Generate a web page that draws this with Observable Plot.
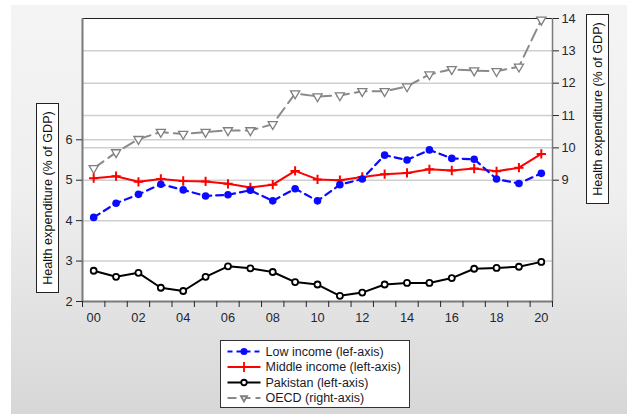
<!DOCTYPE html>
<html>
<head>
<meta charset="utf-8">
<script src="https://cdn.jsdelivr.net/npm/d3@7"></script>
<script src="https://cdn.jsdelivr.net/npm/@observablehq/plot@0.6"></script>
<style>
  html, body { margin: 0; padding: 0; background: #ffffff; }
  #wrap { position: relative; width: 627px; height: 414px; overflow: hidden; font-family: "Liberation Sans", Arial, sans-serif; }
  #bg { position: absolute; left: 11px; top: 5px; right: 0; bottom: 0;
        background: linear-gradient(to bottom, #f4f4f4 0%, #efefef 45%, #e2e2e2 75%, #d7d7d7 100%); }
  #chart { position: absolute; left: 0; top: 0; }
  .ytitle { position: absolute; background: #ffffff; border: 1px solid #222;
            box-sizing: border-box; font-size: 12.6px; color: #111;
            display: flex; align-items: center; justify-content: center; }
  .ytitle span { transform: rotate(-90deg); white-space: nowrap; display: block; }
  #legend { position: absolute; left: 219.5px; top: 340px; width: 190px; height: 67.5px;
            background: #ffffff; border: 1px solid #333; box-sizing: border-box; }
</style>
</head>
<body>
<div id="wrap">
  <div id="bg"></div>
  <div id="chart"></div>
  <div class="ytitle" style="left:36px; top:103px; width:23px; height:190px;"><span>Health expenditure (% of GDP)</span></div>
  <div class="ytitle" style="left:586px; top:14px; width:23px; height:190px;"><span>Health expenditure (% of GDP)</span></div>
  <div id="legend"></div>
</div>
<script>
// Health expenditure as % of GDP, 2000-2020
const years = d3.range(2000, 2021);

const lowIncome = [4.08, 4.43, 4.65, 4.90, 4.76, 4.61, 4.64, 4.75, 4.49, 4.79, 4.49,
                   4.89, 5.03, 5.62, 5.50, 5.75, 5.54, 5.52, 5.03, 4.92, 5.17];
const middleIncome = [5.05, 5.10, 4.96, 5.03, 4.98, 4.97, 4.91, 4.82, 4.89, 5.23, 5.02,
                      5.00, 5.08, 5.15, 5.18, 5.27, 5.24, 5.29, 5.22, 5.31, 5.65];
const pakistan = [2.76, 2.61, 2.71, 2.34, 2.26, 2.61, 2.87, 2.82, 2.73, 2.48, 2.42,
                  2.14, 2.22, 2.42, 2.46, 2.46, 2.58, 2.81, 2.83, 2.86, 2.98];
// OECD is read against the right-hand axis
const oecd = [9.37, 9.86, 10.27, 10.49, 10.43, 10.49, 10.54, 10.54, 10.73, 11.68, 11.59,
              11.62, 11.75, 11.75, 11.90, 12.27, 12.43, 12.39, 12.37, 12.51, 13.96];

const leftTicks = [2, 3, 4, 5, 6];
const rightTicks = [9, 10, 11, 12, 13, 14];
const xLabelYears = d3.range(2000, 2021, 2);

// Right axis (5.25..14) shares the frame with the left axis (2..9)
const leftDomain = [2, 9];
const rightDomain = [5.25, 14];
const toLeft = r => leftDomain[0] + (r - rightDomain[0]) * (leftDomain[1] - leftDomain[0]) / (rightDomain[1] - rightDomain[0]);
const toRight = v => rightDomain[0] + (v - leftDomain[0]) * (rightDomain[1] - rightDomain[0]) / (leftDomain[1] - leftDomain[0]);

const rows = (name, vals, conv = v => v) => years.map((y, i) => ({series: name, year: y, value: conv(vals[i])}));
const low = rows("Low income", lowIncome);
const mid = rows("Middle income", middleIncome);
const pak = rows("Pakistan", pakistan);
const oe = rows("OECD", oecd, toLeft);

const gridVals = [...leftTicks.filter(v => v > 2), ...rightTicks.filter(r => r > 9 && r < 14).map(toLeft)];
const tickColor = "#262633";

const chart = Plot.plot({
  width: 627,
  height: 335,
  marginLeft: 82,
  marginRight: 75,
  marginTop: 18,
  marginBottom: 34,
  style: {background: "transparent", fontFamily: "'Liberation Sans', Arial, sans-serif", fontSize: "12.8px", color: tickColor},
  x: {domain: [1999.5, 2020.5]},
  y: {domain: leftDomain},
  marks: [
    Plot.frame({fill: "white", stroke: "none"}),
    Plot.ruleY(gridVals, {stroke: "#cfcfcf", strokeWidth: 1.5}),
    // frame edges
    Plot.ruleY([9], {stroke: "#222", strokeWidth: 1}),
    Plot.ruleX([2020.5], {stroke: "#7a7a7a", strokeWidth: 1.5}),
    Plot.ruleX([1999.5], {stroke: "#7a7a7a", strokeWidth: 2}),
    Plot.ruleY([2], {stroke: "#7a7a7a", strokeWidth: 2}),
    // axes
    Plot.axisY(leftTicks, {anchor: "left", tickSize: 6, tickPadding: 4, stroke: tickColor, label: null}),
    Plot.axisY(rightTicks.map(toLeft), {anchor: "right", tickSize: 6, tickPadding: 3, stroke: tickColor,
      tickFormat: v => String(Math.round(toRight(v))), label: null}),
    Plot.axisX(d3.range(1999.5, 2021, 1), {anchor: "bottom", tickSize: 6, tickFormat: () => "", stroke: tickColor, label: null}),
    Plot.axisX(xLabelYears, {anchor: "bottom", tickSize: 0, tickPadding: 11, tickFormat: y => String(y % 100).padStart(2, "0"), label: null}),
    // OECD (right axis)
    Plot.line(oe, {x: "year", y: "value", stroke: "#8a8a8a", strokeWidth: 2, strokeDasharray: "12,6"}),
    Plot.dot(oe, {x: "year", y: "value", symbol: "triangle", rotate: 180, r: 3.4, fill: "white", stroke: "#7f7f7f", strokeWidth: 1.3}),
    // Pakistan
    Plot.line(pak, {x: "year", y: "value", stroke: "#000", strokeWidth: 2}),
    Plot.dot(pak, {x: "year", y: "value", r: 3, fill: "white", stroke: "#000", strokeWidth: 1.8}),
    // Middle income
    Plot.line(mid, {x: "year", y: "value", stroke: "#ff0000", strokeWidth: 2}),
    Plot.dot(mid, {x: "year", y: "value", symbol: "plus", r: 3.1, stroke: "#ff0000", strokeWidth: 2}),
    // Low income
    Plot.line(low, {x: "year", y: "value", stroke: "#0a0aff", strokeWidth: 2.2, strokeDasharray: "7,5"}),
    Plot.dot(low, {x: "year", y: "value", r: 3.8, fill: "#0a0aff", stroke: "none"})
  ]
});
document.getElementById("chart").appendChild(chart);

// Legend
const legendItems = [
  {label: "Low income (lef-axis)", color: "#0a0aff", dash: "5,4", symbol: d3.symbolCircle, size: 40, fill: "#0a0aff", stroke: "none", rotate: 0},
  {label: "Middle income (left-axis)", color: "#ff0000", dash: null, symbol: d3.symbolPlus, size: 36, fill: "none", stroke: "#ff0000", rotate: 0},
  {label: "Pakistan (left-axis)", color: "#000000", dash: null, symbol: d3.symbolCircle, size: 24, fill: "white", stroke: "#000", rotate: 0},
  {label: "OECD (right-axis)", color: "#8a8a8a", dash: "9,5", symbol: d3.symbolTriangle2, size: 26, fill: "white", stroke: "#7f7f7f", rotate: 180}
];
const lg = d3.select("#legend").append("svg").attr("width", 188).attr("height", 66)
  .style("position", "absolute").style("left", "0").style("top", "0");
const rowY = [10.5, 26, 41.5, 57];
legendItems.forEach((d, i) => {
  const g = lg.append("g").attr("transform", `translate(0,${rowY[i]})`);
  g.append("line").attr("x1", 6.5).attr("x2", 39.5).attr("y1", 0).attr("y2", 0)
    .attr("stroke", d.color).attr("stroke-width", 2).attr("stroke-dasharray", d.dash);
  g.append("path").attr("d", d3.symbol(d.symbol, d.size)())
    .attr("transform", `translate(23,0) rotate(${d.rotate})`)
    .attr("fill", d.fill).attr("stroke", d.stroke).attr("stroke-width", 1.8);
  g.append("text").attr("x", 44.5).attr("y", 0).attr("dy", "0.35em")
    .attr("font-size", 12.5).attr("font-family", "'Liberation Sans', Arial, sans-serif")
    .attr("fill", "#1a1a2a").text(d.label);
});
</script>
</body>
</html>
